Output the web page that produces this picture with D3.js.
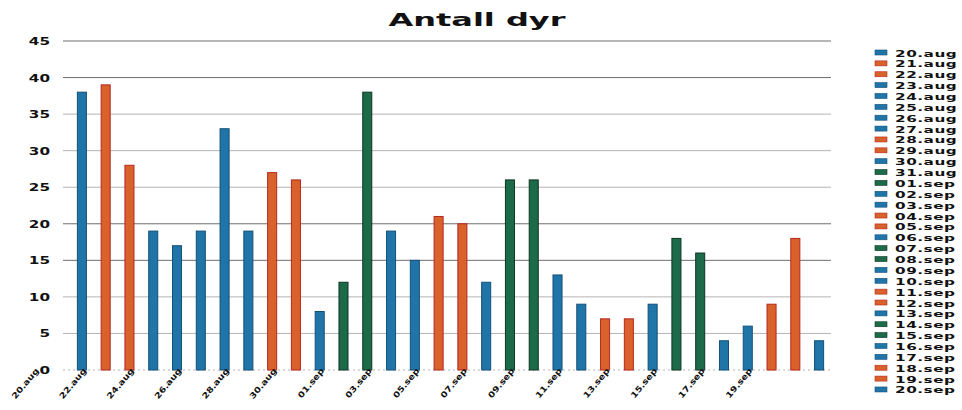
<!DOCTYPE html>
<html>
<head>
<meta charset="utf-8">
<script src="https://cdn.jsdelivr.net/npm/d3@7"></script>
<style>
  html, body { margin: 0; padding: 0; background: #fff; }
  svg { display: block; font-family: "DejaVu Sans", Verdana, sans-serif; }
</style>
</head>
<body>
<svg id="chart" width="962" height="410"></svg>
<script>
const dates = ["20.aug","21.aug","22.aug","23.aug","24.aug","25.aug","26.aug","27.aug","28.aug","29.aug","30.aug","31.aug",
  "01.sep","02.sep","03.sep","04.sep","05.sep","06.sep","07.sep","08.sep","09.sep","10.sep","11.sep","12.sep",
  "13.sep","14.sep","15.sep","16.sep","17.sep","18.sep","19.sep","20.sep"];
const values = [38,39,28,19,17,19,33,19,27,26,8,12,38,19,15,21,20,12,26,26,13,9,7,7,9,18,16,4,6,9,18,4];
// colour group per date: b = blue, o = orange, g = green
const groups = ["b","o","o","b","b","b","b","b","o","o","b","g","g","b","b","o","o","b","g","g","b","b","o","o","b","g","g","b","b","o","o","b"];
const yTicks = [0,5,10,15,20,25,30,35,40,45];
const title = "Antall dyr";

const fills = {b: "#1f74a8", o: "#d8612c", g: "#1d6a48"};
const strokes = {b: "#144f78", o: "#b5281f", g: "#0d3526"};

const svg = d3.select("#chart");

const x = d3.scaleBand().domain(dates).range([70, 831]).paddingInner(0.62).paddingOuter(0.31);
const y = d3.scaleLinear().domain([0, 45]).range([370, 41]);

// gridlines
svg.append("g").selectAll("line").data(yTicks).join("line")
  .attr("x1", 63).attr("x2", 831)
  .attr("y1", d => y(d)).attr("y2", d => y(d))
  .attr("stroke", d => (d === 40 || d === 20 || d === 15 || d === 45) ? "#6e6e6e" : "#b4b4b4")
  .attr("stroke-width", 1)
  .attr("stroke-dasharray", d => d === 0 ? "2,3" : null);

// y labels
svg.append("g").selectAll("text").data(yTicks).join("text")
  .attr("transform", d => `translate(50,${y(d) + 4}) scale(1.45,1)`)
  .attr("text-anchor", "end")
  .attr("font-size", 10.5).attr("font-weight", "bold").attr("fill", "#111")
  .text(d => d);

// bars
svg.append("g").selectAll("rect").data(dates).join("rect")
  .attr("x", d => x(d))
  .attr("width", x.bandwidth())
  .attr("y", (d, i) => y(values[i]))
  .attr("height", (d, i) => y(0) - y(values[i]))
  .attr("fill", (d, i) => fills[groups[i]])
  .attr("stroke", (d, i) => strokes[groups[i]])
  .attr("stroke-width", 1);

// x labels (every second date, offset as in the original)
const step = x.step();
svg.append("g").selectAll("text").data(dates.filter((d, i) => i % 2 === 0)).join("text")
  .attr("transform", d => `translate(${x(d) + x.bandwidth() / 2 - 2 * step + 5},371) rotate(-50) scale(1.2,1)`)
  .attr("text-anchor", "end")
  .attr("font-size", 8).attr("font-weight", "bold").attr("fill", "#111")
  .text(d => d);

// title
svg.append("text")
  .attr("x", 477).attr("y", 26)
  .attr("text-anchor", "middle")
  .attr("font-size", 17).attr("font-weight", "bold").attr("fill", "#111")
  .attr("textLength", 177).attr("lengthAdjust", "spacingAndGlyphs")
  .text(title);

// legend
const leg = svg.append("g").selectAll("g").data(dates).join("g")
  .attr("transform", (d, i) => `translate(875,${53 + i * 10.87})`);
leg.append("rect")
  .attr("x", 0).attr("y", -3).attr("width", 12).attr("height", 5)
  .attr("fill", (d, i) => fills[groups[i]])
  .attr("stroke", (d, i) => strokes[groups[i]]).attr("stroke-width", 0.6);
leg.append("text")
  .attr("transform", "translate(20,3.5) scale(1.7,1)")
  .attr("font-size", 9).attr("font-weight", "bold").attr("fill", "#111")
  .attr("letter-spacing", 0.3)
  .text(d => d);
</script>
</body>
</html>
